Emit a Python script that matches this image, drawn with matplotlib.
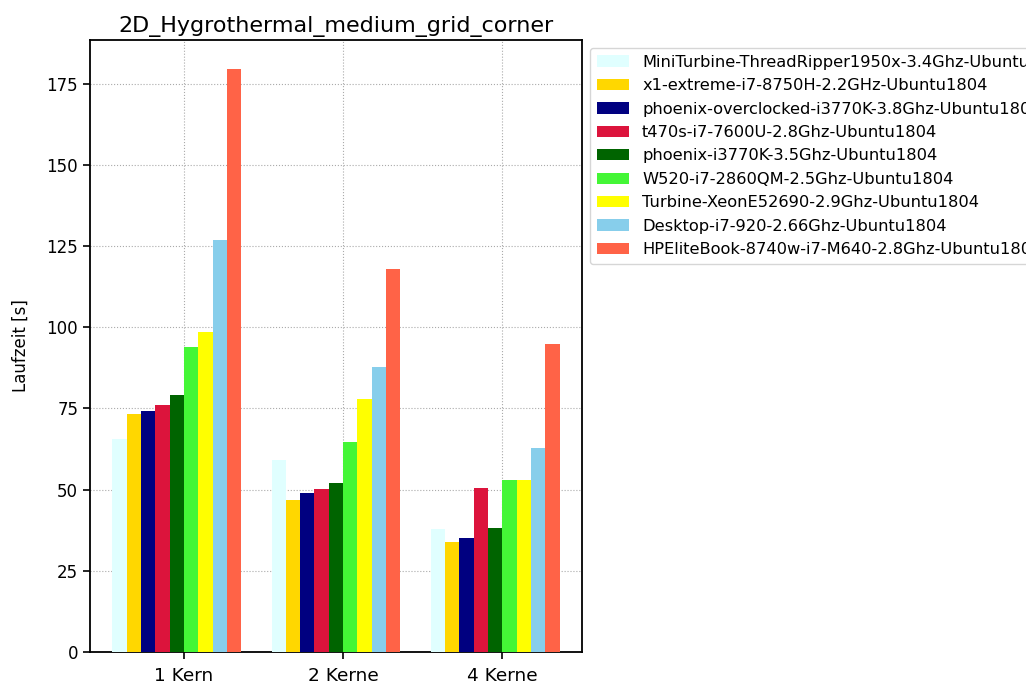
import matplotlib
matplotlib.use("Agg")
import matplotlib.pyplot as plt
import numpy as np

# Laufzeiten in Sekunden je Rechner (Reihenfolge: 1 Kern, 2 Kerne, 4 Kerne)
groups = ["1 Kern", "2 Kerne", "4 Kerne"]
machines = [
    "MiniTurbine-ThreadRipper1950x-3.4Ghz-Ubuntu1804",
    "x1-extreme-i7-8750H-2.2GHz-Ubuntu1804",
    "phoenix-overclocked-i3770K-3.8Ghz-Ubuntu1804",
    "t470s-i7-7600U-2.8Ghz-Ubuntu1804",
    "phoenix-i3770K-3.5Ghz-Ubuntu1804",
    "W520-i7-2860QM-2.5Ghz-Ubuntu1804",
    "Turbine-XeonE52690-2.9Ghz-Ubuntu1804",
    "Desktop-i7-920-2.66Ghz-Ubuntu1804",
    "HPEliteBook-8740w-i7-M640-2.8Ghz-Ubuntu1804",
]
miniturbine = [65.5, 59.1, 37.8]
x1_extreme = [73.3, 46.7, 34.0]
phoenix_oc = [74.1, 48.9, 35.0]
t470s = [76.0, 50.1, 50.5]
phoenix = [79.1, 52.0, 38.1]
w520 = [93.9, 64.6, 52.9]
turbine = [98.6, 77.9, 52.9]
desktop = [127.0, 87.8, 62.8]
hpelitebook = [179.5, 118.1, 95.0]
colors = ["lightcyan", "gold", "navy", "crimson", "darkgreen",
          "#44f636", "yellow", "skyblue", "tomato"]

series = [miniturbine, x1_extreme, phoenix_oc, t470s, phoenix,
          w520, turbine, desktop, hpelitebook]

fig = plt.figure(figsize=(10.26, 6.88), dpi=100)
ax = fig.add_axes([0.0877, 0.0523, 0.4795, 0.8895])

x = np.arange(len(groups))
w = 0.09
n = len(series)
for i, (vals, name, col) in enumerate(zip(series, machines, colors)):
    ax.bar(x + (i - n / 2) * w, vals, w, color=col, label=name, zorder=3)

ax.set_xticks(x)
ax.set_xticklabels(groups, fontsize=13.3)
ax.tick_params(axis="y", labelsize=12)
ax.tick_params(length=5, width=1.2)
ax.tick_params(axis="x", pad=6)
ax.set_ylabel("Laufzeit [s]", fontsize=12, labelpad=12)
ax.set_title("2D_Hygrothermal_medium_grid_corner", fontsize=16, pad=6)
ax.grid(True, linestyle=":", color="#aaaaaa", linewidth=0.8, zorder=0)
ax.set_axisbelow(True)
for s in ax.spines.values():
    s.set_linewidth(1.3)

# Legende rechts ausserhalb, wird wie im Original am Rand abgeschnitten
ax.legend(loc="upper left", bbox_to_anchor=(1.0, 1.0), fontsize=11.7,
          borderaxespad=0.5, labelspacing=0.52)

fig.savefig("out.png", dpi=100)
